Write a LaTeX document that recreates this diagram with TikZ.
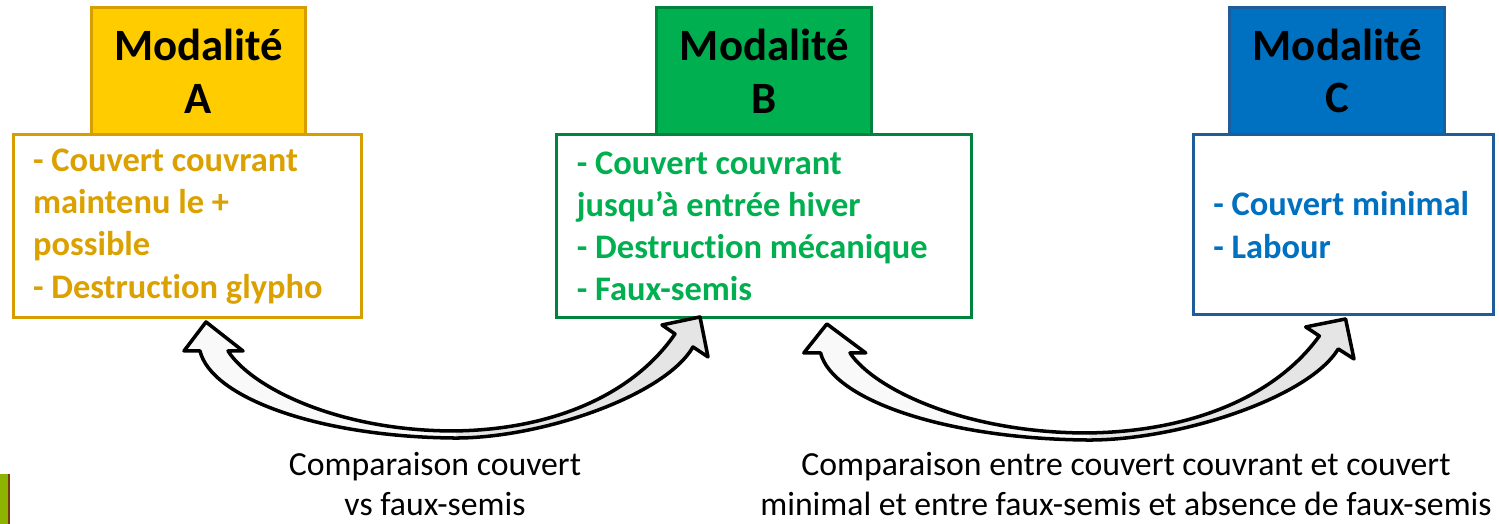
\documentclass[tikz,border=0pt]{standalone}
\usepackage{fontspec}
\setmainfont{Carlito}[Ligatures={NoCommon}]
\usepackage{tikz}
\usetikzlibrary{calc, positioning}

\definecolor{goldfill}{HTML}{FFCC00}
\definecolor{goldline}{HTML}{D69E00}
\definecolor{goldtext}{HTML}{DBA100}
\definecolor{greenfill}{HTML}{00B050}
\definecolor{greenline}{HTML}{00843D}
\definecolor{bluefill}{HTML}{0070C0}
\definecolor{blueline}{HTML}{1E5C9A}
\definecolor{olivebar}{HTML}{8CB400}
\definecolor{brownbar}{HTML}{7A3A10}

% outline of the bent two-headed arrow, origin at the left tip (pixel units)
\newcommand{\arrowoutline}{(0,0) -- (37,29) -- (22,29) .. controls (45,65) and (130,108) .. (244,109) .. controls (340,109) and (425,76) .. (469,12) -- (456,3) -- (494,-5) -- (502,35) -- (487,25) .. controls (458,75) and (330,118) .. (244,116) .. controls (110,114) and (5,75) .. (-6,29) -- (-22,29) -- cycle}

\tikzset{
    head/.style={rectangle, line width=1.7pt, outer sep=0pt, minimum width=4.3cm, minimum height=2.56cm, align=center, text=black, font=\bfseries\fontsize{25.5}{30}\selectfont},
    body/.style={rectangle, line width=1.7pt, outer sep=0pt, fill=white, inner xsep=0.4cm, align=flush left, font=\bfseries\fontsize{19.6}{24}\selectfont},
    note/.style={align=center, inner sep=0pt, text=black, font=\fontsize{19.2}{23}\selectfont},
    pics/swaparrow/.style={code={
        \fill[gray!5] \arrowoutline;
        \begin{scope}
            \clip (250,-30) rectangle (560,140);
            \fill[gray!20] \arrowoutline;
        \end{scope}
        \draw[line width=2pt, line join=round] \arrowoutline;
    }}
}

\begin{document}
\begin{tikzpicture}[x=0.02cm, y=-0.02cm]
    \useasboundingbox (0,0) rectangle (1499,524);

    % Headers
    \node[head, fill=goldfill, draw=goldline] (headA) at (198.5,71) {Modalité\\A};
    \node[head, fill=greenfill, draw=greenline, right=7.02cm of headA] (headB) {Modalité\\B};
    \node[head, fill=bluefill, draw=blueline, right=7.16cm of headB] (headC) {Modalité\\C};

    % Contents
    \node[body, draw=goldline, text=goldtext, text width=6.18cm, minimum height=3.66cm, below=0pt of headA, xshift=-0.22cm] (bodyA)
        {- Couvert couvrant\\maintenu le +\\possible\\- Destruction glypho};
    \node[body, draw=greenline, text=greenfill, text width=7.5cm, minimum height=3.66cm, below=0pt of headB] (bodyB)
        {- Couvert couvrant\\jusqu’à entrée hiver\\- Destruction mécanique\\- Faux-semis};
    \node[body, draw=blueline, text=bluefill, text width=5.2cm, minimum height=3.6cm, below=0pt of headC, xshift=0.12cm] (bodyC)
        {- Couvert minimal\\- Labour};

    % Comparisons
    \coordinate (tipAB) at ($(bodyA.south)+(18.5,4)$);
    \coordinate (tipBC) at ($(bodyB.south)+(62.5,6)$);
    \pic at (tipAB) {swaparrow};
    \pic[xscale=1.05] at (tipBC) {swaparrow};

    \node[note] (noteAB) at (435,484) {Comparaison couvert\\vs faux-semis};
    \node[note] (noteBC) at (1126,484) {Comparaison entre couvert couvrant et couvert\\minimal et entre faux-semis et absence de faux-semis};

    % cut-off bar at the left edge
    \fill[olivebar] (0,474) rectangle (8,524);
    \fill[brownbar] (8,474) rectangle (10,524);
\end{tikzpicture}
\end{document}
